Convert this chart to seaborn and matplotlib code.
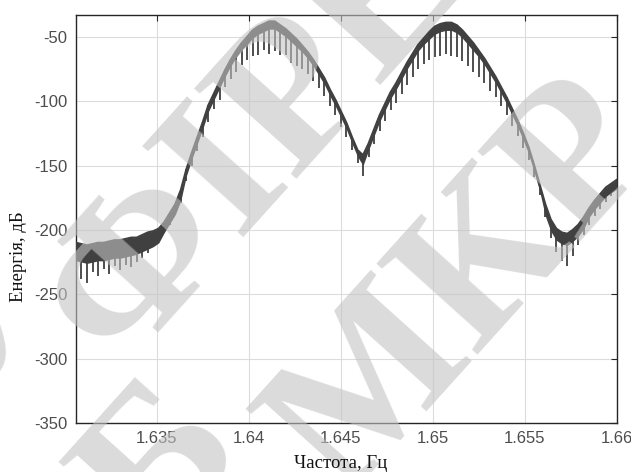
import numpy as np
import matplotlib
matplotlib.use("Agg")
import matplotlib.pyplot as plt
import seaborn as sns

# frequency bins (Hz), one comb tooth per bin
freq = np.linspace(1.6306, 1.6600, 99)

# upper envelope of the spectrum, dB
energy_top = [
    -210, -211, -212, -211, -210, -210, -209, -208, -208, -207,
    -206, -206, -204, -202, -201, -199, -194, -187, -180, -169,
    -153, -140, -128, -116, -103, -94, -85, -76, -68, -61,
    -55, -50, -45, -42, -40, -38, -38, -41, -44, -48,
    -52, -57, -62, -68, -75, -82, -91, -99, -108, -117,
    -128, -138, -142, -133, -122, -111, -102, -93, -86, -78,
    -70, -63, -56, -51, -46, -42, -40, -39, -39, -41,
    -45, -50, -55, -61, -67, -74, -81, -89, -97, -106,
    -115, -125, -136, -150, -165, -180, -192, -199, -202, -203,
    -200, -196, -190, -183, -177, -172, -167, -164, -161,
]

# lower edge of the solid band of fast oscillation, dB
energy_band = [
    -224, -225, -226, -225, -224, -224, -223, -222, -222, -221,
    -220, -219, -217, -215, -213, -210, -202, -195, -188, -177,
    -158, -145, -133, -121, -108, -99, -90, -81, -73, -66,
    -60, -56, -51, -48, -46, -44, -44, -47, -50, -54,
    -58, -62, -67, -73, -80, -87, -96, -104, -113, -122,
    -133, -143, -150, -138, -127, -116, -107, -98, -91, -83,
    -75, -68, -61, -56, -52, -48, -46, -45, -45, -47,
    -51, -56, -61, -66, -72, -79, -86, -94, -102, -111,
    -120, -130, -141, -155, -170, -189, -201, -208, -211, -212,
    -209, -205, -199, -190, -184, -179, -174, -171, -168,
]

# bottom of the downward spikes, dB
energy_low = [
    -232, -238, -241, -233, -236, -230, -234, -228, -231, -227,
    -229, -225, -222, -218, -211, -208, -202, -196, -188, -179,
    -162, -150, -139, -128, -116, -106, -99, -89, -83, -77,
    -72, -68, -65, -64, -60, -63, -61, -64, -64, -70,
    -73, -75, -79, -84, -90, -96, -104, -111, -120, -128,
    -138, -148, -158, -143, -133, -123, -115, -107, -101, -94,
    -87, -81, -75, -71, -68, -66, -65, -63, -65, -66,
    -69, -73, -77, -81, -86, -92, -97, -104, -111, -119,
    -127, -136, -146, -159, -173, -190, -206, -217, -224, -228,
    -220, -212, -204, -196, -189, -184, -178, -174, -169,
]

xticks = [1.635, 1.64, 1.645, 1.65, 1.655, 1.66]
xtick_labels = ["1.635", "1.64", "1.645", "1.65", "1.655", "1.66"]
yticks = [-350, -300, -250, -200, -150, -100, -50]

sns.set_theme(style="whitegrid")
plt.rcParams["font.family"] = ["Liberation Sans", "DejaVu Sans"]
plt.rcParams["axes.unicode_minus"] = False

fig = plt.figure(figsize=(6.31, 4.72), dpi=100)
ax = fig.add_axes([0.1204, 0.1038, 0.8574, 0.8644])

line_col = "#404040"
ax.fill_between(freq, energy_band, energy_top, color=line_col, lw=0, zorder=3)
ax.vlines(freq, energy_low, energy_top, color=line_col, lw=1.3, zorder=3)
sns.lineplot(x=freq, y=energy_top, ax=ax, color=line_col, lw=1.6, zorder=4)

ax.set_xlim(1.6306, 1.6600)
ax.set_ylim(-350, -33)
ax.set_xticks(xticks)
ax.set_xticklabels(xtick_labels)
ax.set_yticks(yticks)

ax.grid(True, color="#dcdcdc", lw=0.8)
for s in ax.spines.values():
    s.set_color("#262626")
    s.set_linewidth(1.0)
ax.tick_params(direction="in", top=True, right=True, length=4, width=0.8,
               color="#262626", labelsize=12, labelcolor="#4d4d4d", pad=6)

# watermark
wm = dict(family="Liberation Serif", fontsize=150, fontweight="bold", color="#c3c3c3",
          alpha=0.6, rotation=48, rotation_mode="anchor", ha="center", va="center", zorder=10)
fig.text(255 / 631, 1 - 140 / 472, "ФІРЕ", **wm)
fig.text(465 / 631, 1 - 290 / 472, "МКР", **wm)
fig.text(165 / 631, 1 - 468 / 472, "Б", **wm)
fig.text(-20 / 631, 1 - 310 / 472, "У", **wm)

# axis labels above the watermark
fig.text(341 / 631, 1 - 463 / 472, "Частота, Гц", family="Liberation Serif",
         fontsize=13.5, color="#111111", ha="center", va="center", zorder=11)
fig.text(19 / 631, 1 - 257 / 472, "Енергія, дБ", family="Liberation Serif",
         fontsize=13.5, color="#111111", ha="center", va="center", rotation=90, zorder=11)

fig.savefig("out.png", dpi=100)
